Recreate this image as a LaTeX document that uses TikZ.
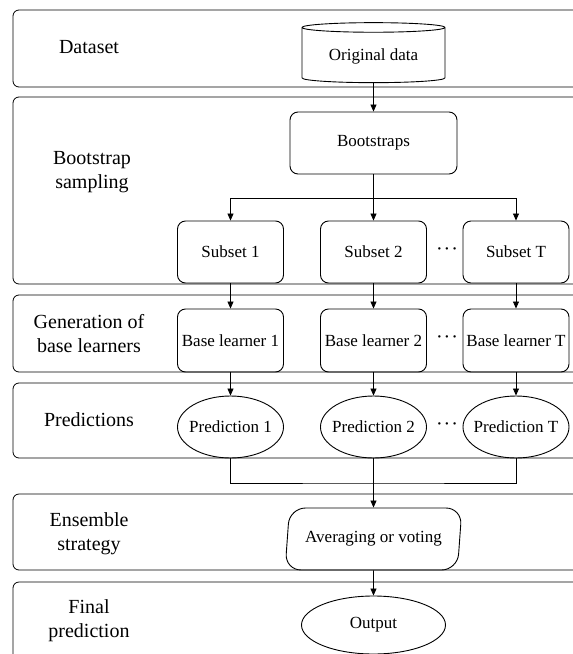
\documentclass[tikz,border=0pt]{standalone}
\usepackage{fontspec}
\setmainfont{Liberation Serif}
\usetikzlibrary{shapes.geometric, arrows.meta}

\tikzset{
	band/.style={draw, rounded corners=6pt, line width=0.8pt},
	lab/.style={font=\fontsize{20}{24}\selectfont, align=center},
	stage/.style={draw, rounded corners=8pt, minimum width=106pt, minimum height=62pt, inner sep=1pt, line width=0.9pt, font=\fontsize{17}{20}\selectfont},
	pred/.style={draw, ellipse, minimum width=106pt, minimum height=62pt, inner xsep=-5pt, inner ysep=0pt, line width=0.9pt, font=\fontsize{17}{20}\selectfont},
	dots/.style={font=\fontsize{20}{20}\selectfont, inner sep=0pt},
	flow/.style={-{Triangle[length=7pt, width=6pt]}, line width=0.8pt}
}

\begin{document}
\begin{tikzpicture}[x=1pt, y=-1pt]
		\useasboundingbox (0,0) rectangle (573,654);
		\clip (0,0) rectangle (573,654);
		% bands
		\draw[band] (13,10) rectangle (600,87);
		\draw[band] (13,97) rectangle (600,284);
		\draw[band] (13,295) rectangle (600,372);
		\draw[band] (13,383) rectangle (600,458);
		\draw[band] (13,494) rectangle (600,570);
		\draw[band] (13,582) rectangle (600,700);
		% band labels
		\node[lab] (ldata) at (89,47) {Dataset};
		\node[lab] (lboot) at (92,172) {Bootstrap\\sampling};
		\node[lab] (lgen) at (89,334) {Generation of\\base learners};
		\node[lab] (lpred) at (89,420) {Predictions};
		\node[lab] (lens) at (89,534) {Ensemble\\strategy};
		\node[lab] (lfin) at (89,621) {Final\\prediction};
		% nodes
		\node[draw, cylinder, shape border rotate=90, aspect=0.1, minimum width=143pt, minimum height=60pt, line width=0.9pt, font=\fontsize{17}{20}\selectfont] (orig) at (373.5,56) {Original data};
		\node[stage, minimum width=167pt] (boot) at (373.5,143) {Bootstraps};
		\node[stage] (sub1) at (230.5,252) {Subset 1};
		\node[stage] (sub2) at (373.5,252) {Subset 2};
		\node[stage] (subT) at (516,252) {Subset T};
		\node[stage, minimum height=63pt] (bl1) at (230.5,340.5) {Base learner 1};
		\node[stage, minimum height=63pt] (bl2) at (373.5,340.5) {Base learner 2};
		\node[stage, minimum height=63pt] (blT) at (516,340.5) {Base learner T};
		\node[pred] (pr1) at (230.5,427) {Prediction 1};
		\node[pred] (pr2) at (373.5,427) {Prediction 2};
		\node[pred] (prT) at (516,427) {Prediction T};
		\node[draw, trapezium, trapezium left angle=80, trapezium right angle=100, trapezium stretches=true, minimum width=177pt, minimum height=62pt, rounded corners=16pt, line width=0.9pt, font=\fontsize{17}{20}\selectfont] (avg) at (373.5,539) {Averaging or voting};
		\node[draw, ellipse, minimum width=144pt, minimum height=58pt, line width=0.9pt, font=\fontsize{17}{20}\selectfont] (out) at (373.5,625) {Output};
		\node[dots] (d1) at (447,252) {·\kern1pt·\kern1pt·};
		\node[dots] (d2) at (447,340) {·\kern1pt·\kern1pt·};
		\node[dots] (d3) at (447,427) {·\kern1pt·\kern1pt·};
		% connectors
		\coordinate (split) at (373.5,198);
		\coordinate (join) at (373.5,483);
		\draw[flow] (orig) -- (boot);
		\draw[flow] (boot) -- (sub2);
		\draw[flow] (split) -| (sub1);
		\draw[flow] (split) -| (subT);
		\draw[flow] (sub1) -- (bl1);
		\draw[flow] (sub2) -- (bl2);
		\draw[flow] (subT) -- (blT);
		\draw[flow] (bl1) -- (pr1);
		\draw[flow] (bl2) -- (pr2);
		\draw[flow] (blT) -- (prT);
		\draw[line width=0.8pt] (pr1) |- (join) -| (prT);
		\draw[flow] (pr2) -- (avg);
		\draw[flow] (avg) -- (out);
	\end{tikzpicture}
\end{document}
